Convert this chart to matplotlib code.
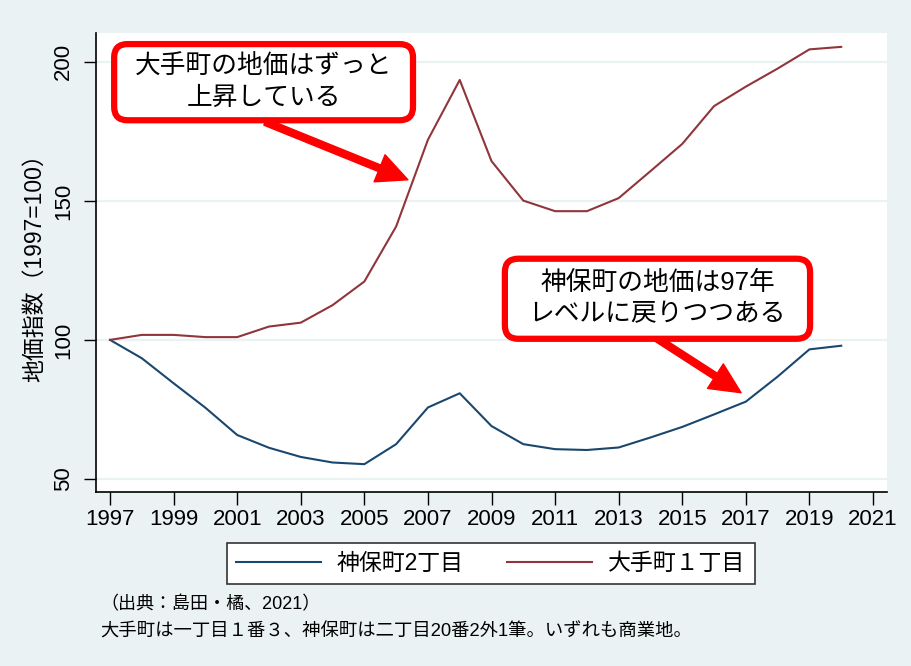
import matplotlib
matplotlib.use("Agg")
import matplotlib.pyplot as plt
from matplotlib.patches import FancyBboxPatch

plt.rcParams['font.family'] = ['Liberation Sans', 'Noto Sans CJK JP', 'DejaVu Sans']

# data (1997 = 100)
years = list(range(1997, 2021))
jimbocho = [100, 93.4, 84.4, 75.6, 65.8, 61.2, 57.9, 55.9, 55.3, 62.5, 75.7, 80.8,
            69.0, 62.5, 60.7, 60.4, 61.3, 64.9, 68.7, 73.2, 77.8, 86.8, 96.6, 97.9]
otemachi = [100, 101.8, 101.8, 101.0, 101.0, 104.8, 106.2, 112.5, 121.0, 140.8, 172.0, 193.5,
            164.3, 150.1, 146.3, 146.3, 151.0, 160.7, 170.5, 184.1, 191.1, 197.6, 204.5, 205.4]
xticks = list(range(1997, 2022, 2))
yticks = [50, 100, 150, 200]

bg = '#EAF2F3'
navy = '#1a476f'
maroon = '#90353b'
red = '#ff0000'

fig = plt.figure(figsize=(9.12, 6.66), dpi=100, facecolor=bg)
ax = fig.add_axes([0.1053, 0.2613, 0.8673, 0.6892])
ax.set_facecolor('white')

ax.plot(years, jimbocho, color=navy, lw=1.5, label='神保町2丁目')
ax.plot(years, otemachi, color=maroon, lw=1.5, label='大手町１丁目')

ax.set_xlim(1996.56, 2021.44)
ax.set_ylim(45.3, 210.4)
ax.set_xticks(xticks)
ax.set_yticks(yticks)
ax.set_xticklabels([str(x) for x in xticks], fontsize=16)
ax.set_yticklabels([str(y) for y in yticks], fontsize=16, rotation=90, va='center')
ax.tick_params(direction='out', length=9, width=1, pad=3)
ax.tick_params(axis='y', pad=7)
ax.grid(axis='y', color=bg, lw=1.6)
ax.set_axisbelow(True)
for s in ['top', 'right']:
    ax.spines[s].set_visible(False)
for s in ['left', 'bottom']:
    ax.spines[s].set_linewidth(1.2)
ax.set_ylabel('地価指数（1997=100）', fontsize=16.5, labelpad=5)

# callout arrows
arrow = dict(facecolor=red, edgecolor=red, width=5, headwidth=21, headlength=22)
ax.annotate('', xy=(2006.37, 157.6), xytext=(2001.88, 178.4), arrowprops=arrow)
ax.annotate('', xy=(2016.85, 81.0), xytext=(2014.14, 101), arrowprops=arrow)

# one y unit is ~2.78 px, one year ~31.79 px; keep corners round on screen
aspect = 31.79 / 2.78


def callout(x0, y0, w, h, txt):
    p = FancyBboxPatch((x0, y0), w, h, boxstyle='round,pad=0,rounding_size=0.42',
                       mutation_aspect=aspect, facecolor='white',
                       edgecolor=red, lw=4.5, zorder=5)
    ax.add_patch(p)
    ax.text(x0 + w / 2, y0 + h / 2, txt, ha='center', va='center', fontsize=18.5,
            linespacing=1.38, zorder=6)


callout(1997.13, 179.0, 9.4, 27.4, '大手町の地価はずっと\n上昇している')
callout(2009.42, 100.4, 9.6, 28.8, '神保町の地価は97年\nレベルに戻りつつある')

leg = fig.legend(loc='center', bbox_to_anchor=(0.538, 0.154), ncol=2, fontsize=16.5,
                 handlelength=3.7, handletextpad=0.7, columnspacing=1.9, fancybox=False,
                 framealpha=1, edgecolor='#333333', borderpad=0.4)
leg.get_frame().set_linewidth(1.2)

fig.text(100 / 912, 1 - 605 / 666, '（出典：島田・橘、2021）', fontsize=13, va='center')
fig.text(100 / 912, 1 - 632 / 666, '大手町は一丁目１番３、神保町は二丁目20番2外1筆。いずれも商業地。',
         fontsize=13.2, va='center')

fig.savefig('out.png', dpi=100, facecolor=bg)
